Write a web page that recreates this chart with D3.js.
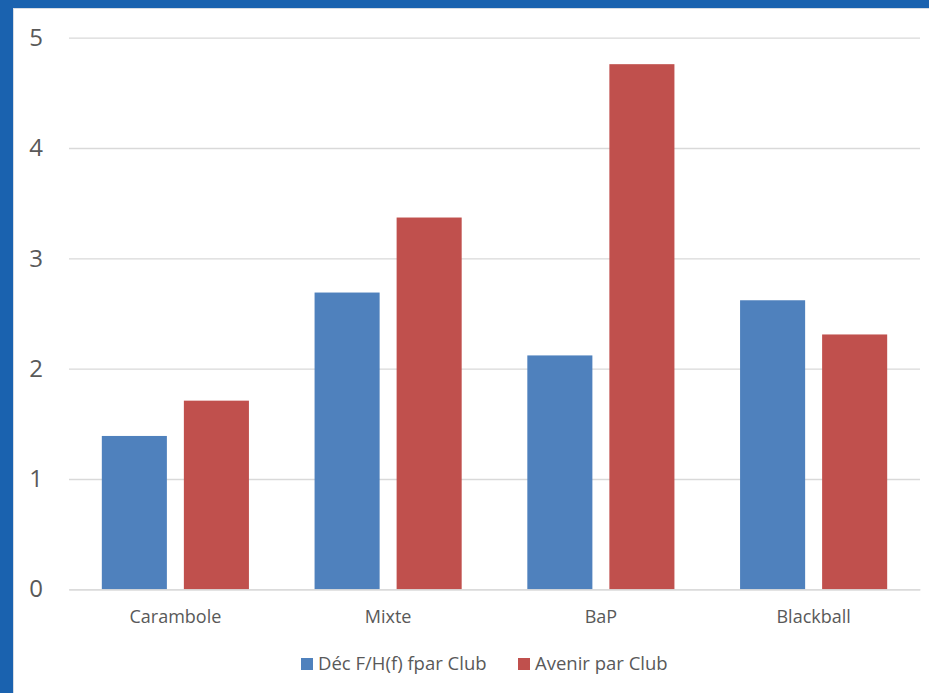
<!DOCTYPE html>
<html><head><meta charset="utf-8">
<script src="https://cdn.jsdelivr.net/npm/d3@7"></script>
<style>body{margin:0;background:#fff}svg{display:block}</style>
</head><body>
<script>
const categories = ["Carambole", "Mixte", "BaP", "Blackball"];
const seriesNames = ["Déc F/H(f) fpar Club", "Avenir par Club"];
const decValues = [1.39, 2.69, 2.12, 2.62];
const avenirValues = [1.71, 3.37, 4.76, 2.31];
const yTicks = [0, 1, 2, 3, 4, 5];
const colors = ["#4F81BD", "#C0504D"];

(function () {
const W = 929, H = 693;
const svg = d3.select("body").append("svg").attr("width", W).attr("height", H);
// frame
svg.append("rect").attr("x", 0).attr("y", 0).attr("width", W).attr("height", H).attr("fill", "#1A62AF");
svg.append("rect").attr("x", 13).attr("y", 8).attr("width", W - 13).attr("height", H - 8).attr("fill", "#D6DCE4");
svg.append("rect").attr("x", 14).attr("y", 9).attr("width", W - 14).attr("height", H - 9).attr("fill", "#fff");

const mLeft = 69, mRight = 920, mTop = 37.7, mBottom = 589.3;
const x = d3.scaleBand().domain(categories).range([mLeft, mRight]).paddingInner(0).paddingOuter(0);
const y = d3.scaleLinear().domain([0, 5]).range([mBottom, mTop]);
const x1 = d3.scaleBand().domain([0, 1]).range([0, x.bandwidth()]).paddingOuter(0.4).paddingInner(0.207);

// gridlines
const yAxis = d3.axisLeft(y).tickValues(yTicks).tickSize(-(mRight - mLeft)).tickFormat(d3.format("d"));
const ga = svg.append("g").attr("transform", `translate(${mLeft},0)`).call(yAxis);
ga.select(".domain").remove();
ga.selectAll(".tick line").attr("stroke", "#D9D9D9").attr("stroke-width", 1.3);
ga.selectAll(".tick text").attr("x", -33).attr("fill", "#595959")
  .style("font-family", "'Open Sans', sans-serif").style("font-size", "24px").attr("text-anchor", "middle");

const data = categories.map((c, i) => ({c, v: [decValues[i], avenirValues[i]]}));
const g = svg.append("g");
data.forEach(d => {
  d.v.forEach((v, j) => {
    g.append("rect")
      .attr("x", x(d.c) + x1(j))
      .attr("width", x1.bandwidth())
      .attr("y", y(v))
      .attr("height", y(0) - y(v))
      .attr("fill", colors[j]);
  });
});

// x axis
const xAxis = d3.axisBottom(x).tickSize(0).tickPadding(21);
const gx = svg.append("g").attr("transform", `translate(0,${mBottom})`).call(xAxis);
gx.select(".domain").attr("stroke", "#D9D9D9").attr("stroke-width", 1.3);
gx.selectAll(".tick text").attr("fill", "#595959")
  .style("font-family", "'Open Sans', sans-serif").style("font-size", "18px");

// legend
const legend = svg.append("g").style("font-family", "'Open Sans', sans-serif").style("font-size", "18.5px");
const legendPos = [301, 518];
seriesNames.forEach((n, j) => {
  legend.append("rect").attr("x", legendPos[j]).attr("y", 658).attr("width", 12).attr("height", 12).attr("fill", colors[j]);
  legend.append("text").attr("x", legendPos[j] + 17).attr("y", 670).attr("fill", "#595959").text(n);
});
})();
</script>
</body></html>
